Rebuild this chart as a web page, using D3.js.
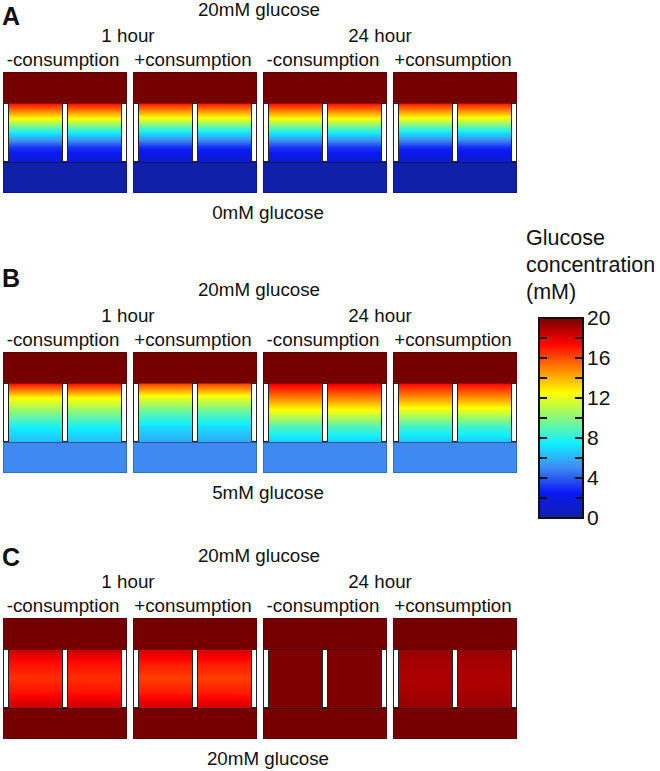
<!DOCTYPE html>
<html><head><meta charset="utf-8">
<script src="https://cdn.jsdelivr.net/npm/d3@7"></script>
<style>body{margin:0;background:#fff} text{font-family:"Liberation Sans",Arial,sans-serif;fill:#111}</style>
</head><body><svg id="c" width="660" height="771"></svg>
<script>
// ---------- data ----------
const panels = ["A","B","C"];
const topConc = [20,20,20];
const bottomConc = [0,5,20];
const topLabels = ["20mM glucose","20mM glucose","20mM glucose"];
const bottomLabels = ["0mM glucose","5mM glucose","20mM glucose"];
const times = ["1 hour","24 hour"];
const conditions = ["-consumption","+consumption","-consumption","+consumption"];
// concentration (mM) inside the chamber, from its top (0) to its bottom (1)
const profilePos = [0,0.25,0.5,0.75,1];
const profilesA = [[17.5,12.8,7.6,3.2,1.2],[17.3,12.5,7.3,3.0,1.0],[17.5,12.8,7.6,3.2,1.2],[17.3,12.5,7.3,3.0,1.0]];
const profilesB = [[17.5,12.6,10.0,7.6,6.2],[16.5,12.0,9.2,7.0,5.8],[17.9,15.0,12.0,8.8,6.6],[17.6,14.6,11.6,8.5,6.4]];
const profilesC = [[18.6,17.2,16.6,17.2,18.6],[18.4,17.0,16.3,17.0,18.4],[19.8,19.8,19.8,19.8,19.8],[19.4,19.1,19.0,19.1,19.4]];
const profiles = [profilesA, profilesB, profilesC];
const colorTicks = [0,4,8,12,16,20];
const colorMinorTicks = [2,4,6,8,10,12,14,16,18];
const colorbarTitle = ["Glucose","concentration","(mM)"];

// ---------- layout ----------
const svg = d3.select("#c");
const defs = svg.append("defs");
const blockTops = [72, 352, 618];
const resH = 31, chamberH = 59, postW = 6;
const letterBaselines = [25, 287, 566];

const color = d3.scaleLinear()
  .domain([0, 2.5, 5, 7.5, 12.5, 17.5, 20])
  .range(["#1020a8", "#0a18f5", "#3e8af2", "#10f0ff", "#ffff00", "#ff0000", "#740000"])
  .clamp(true);

const x = d3.scaleBand().domain(d3.range(conditions.length)).range([3, 517]).paddingInner(0.046);
const bw = x.bandwidth();

panels.forEach((p, pi) => {
  const bt = blockTops[pi];
  const g = svg.append("g");
  g.append("text").attr("x", 2).attr("y", letterBaselines[pi])
    .attr("font-size", 25).attr("font-weight", "bold").text(p);
  g.append("text").attr("x", 259).attr("y", bt - 56).attr("text-anchor", "middle")
    .attr("font-size", 18.8).text(topLabels[pi]);
  g.append("text").attr("x", 268).attr("y", bt + 147).attr("text-anchor", "middle")
    .attr("font-size", 18.8).text(bottomLabels[pi]);
  const timeShift = [-2, -10];
  times.forEach((t, ti) => {
    const mid = (x(ti * 2) + x(ti * 2 + 1) + bw) / 2;
    g.append("text").attr("x", mid + timeShift[ti]).attr("y", bt - 30)
      .attr("text-anchor", "middle").attr("font-size", 18.8).text(t);
  });
  const yc = d3.scaleLinear().domain([0, 1]).range([bt + resH, bt + resH + chamberH]);
  conditions.forEach((c, ci) => {
    const x0 = x(ci);
    g.append("text").attr("x", x0 + bw / 2 - 2).attr("y", bt - 6)
      .attr("text-anchor", "middle").attr("font-size", 18.8).text(c);
    // gradient for chamber
    const prof = d3.scaleLinear().domain(profilePos).range(profiles[pi][ci]);
    const gid = `g${pi}_${ci}`;
    const lg = defs.append("linearGradient").attr("id", gid)
      .attr("x1", 0).attr("y1", 0).attr("x2", 0).attr("y2", 1);
    d3.range(0, 1.0001, 0.02).forEach(t => {
      lg.append("stop").attr("offset", t).attr("stop-color", color(prof(t)));
    });
    // reservoirs
    g.append("rect").attr("x", x0).attr("y", bt).attr("width", bw).attr("height", resH)
      .attr("fill", color(topConc[pi]));
    g.append("rect").attr("x", x0).attr("y", yc(1)).attr("width", bw).attr("height", resH)
      .attr("fill", color(bottomConc[pi]));
    // chamber
    g.append("rect").attr("x", x0).attr("y", yc(0)).attr("width", bw).attr("height", chamberH)
      .attr("fill", `url(#${gid})`);
    // chamber edges (membranes)
    [0, 1].forEach(e => {
      g.append("line").attr("x1", x0).attr("x2", x0 + bw).attr("y1", yc(e) + 0.5).attr("y2", yc(e) + 0.5)
        .attr("stroke", "#000").attr("stroke-opacity", 0.35).attr("stroke-width", 1);
    });
    // block outline
    g.append("rect").attr("x", x0 + 0.5).attr("y", bt + 0.5).attr("width", bw - 1).attr("height", resH * 2 + chamberH - 1)
      .attr("fill", "none").attr("stroke", "#000").attr("stroke-opacity", 0.2);
    // posts
    [x0, x0 + bw / 2 - postW / 2, x0 + bw - postW].forEach(px => {
      g.append("rect").attr("x", px + 0.5).attr("y", yc(0) + 0.5).attr("width", postW - 1).attr("height", chamberH - 1)
        .attr("fill", "#fff").attr("stroke", "#222").attr("stroke-width", 1);
    });
  });
});

// ---------- colorbar ----------
const cbX = 539, cbW = 44;
const yb = d3.scaleLinear().domain([0, 20]).range([518, 318]);
const cg = defs.append("linearGradient").attr("id", "cbar").attr("x1", 0).attr("y1", 1).attr("x2", 0).attr("y2", 0);
d3.range(0, 20.001, 0.5).forEach(v => cg.append("stop").attr("offset", v / 20).attr("stop-color", color(v)));
const cb = svg.append("g");
colorbarTitle.forEach((t, i) => {
  cb.append("text").attr("x", 526).attr("y", 245 + i * 27).attr("font-size", 21.5).text(t);
});
cb.append("rect").attr("x", cbX).attr("y", yb(20)).attr("width", cbW).attr("height", yb(0) - yb(20))
  .attr("fill", "url(#cbar)").attr("stroke", "#111").attr("stroke-width", 2);
colorMinorTicks.forEach(v => {
  cb.append("line").attr("x1", cbX).attr("x2", cbX + 8).attr("y1", yb(v)).attr("y2", yb(v))
    .attr("stroke", "#111").attr("stroke-width", 2);
  cb.append("line").attr("x1", cbX + cbW - 8).attr("x2", cbX + cbW).attr("y1", yb(v)).attr("y2", yb(v))
    .attr("stroke", "#111").attr("stroke-width", 2);
});
const axis = d3.axisRight(yb).tickValues(colorTicks).tickSize(0).tickPadding(0);
const ax = cb.append("g").attr("transform", `translate(${cbX + cbW + 4},0)`).call(axis);
ax.select(".domain").remove();
ax.selectAll("text").attr("font-size", 21).attr("fill", "#111")
  .style("font-family", '"Liberation Sans",Arial,sans-serif');
</script></body></html>
